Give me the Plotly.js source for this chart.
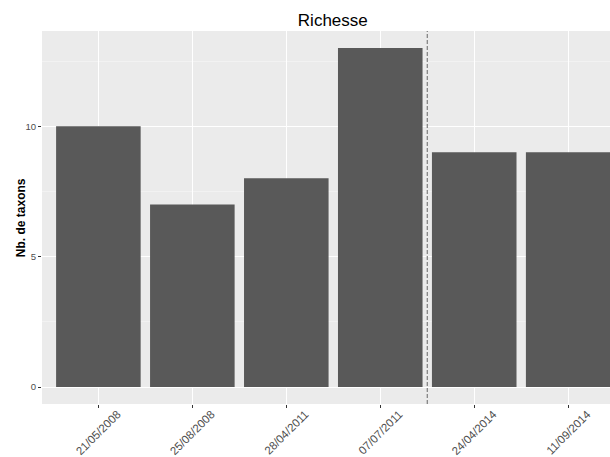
<!DOCTYPE html>
<html>
<head>
<meta charset="utf-8">
<script src="https://cdn.plot.ly/plotly-3.0.1.min.js"></script>
<style>html,body{margin:0;padding:0;overflow:hidden;background:#fff}</style>
</head>
<body>
<div id="chart" style="width:610px;height:457px"></div>
<script>
const dates = ["21/05/2008", "25/08/2008", "28/04/2011", "07/07/2011", "24/04/2014", "11/09/2014"];
const richesse = [10, 7, 8, 13, 9, 9];
const yTicks = [0, 5, 10];
const separatorPosition = 3.5;

const trace = {
  type: 'bar',
  x: dates,
  y: richesse,
  width: 0.9,
  marker: {color: '#595959', line: {width: 0}},
  hoverinfo: 'x+y'
};

const layout = {
  width: 610,
  height: 457,
  margin: {l: 42, r: 0, t: 31, b: 53, pad: 0},
  paper_bgcolor: '#FFFFFF',
  plot_bgcolor: '#EBEBEB',
  font: {family: 'Liberation Sans, Arial, sans-serif', color: '#4D4D4D'},
  showlegend: false,
  bargap: 0.1,
  title: {
    text: 'Richesse',
    font: {size: 17, color: '#000000', family: 'Liberation Sans, Arial, sans-serif'},
    xref: 'paper', x: 0.512, xanchor: 'center',
    yref: 'container', y: 0.957, yanchor: 'middle'
  },
  xaxis: {
    type: 'category',
    categoryorder: 'array',
    categoryarray: dates,
    range: [-0.6, 5.445],
    showgrid: true,
    gridcolor: '#FFFFFF',
    gridwidth: 1,
    zeroline: false,
    showline: false,
    ticks: 'outside',
    ticklen: 3,
    tickcolor: '#333333',
    tickwidth: 1,
    tickangle: -45,
    ticklabelshift: 19,
    ticklabelstandoff: -5,
    tickfont: {size: 11.5, color: '#4D4D4D'},
    automargin: false,
    fixedrange: true
  },
  yaxis: {
    range: [-0.65, 13.65],
    tickvals: yTicks,
    ticktext: yTicks.map(String),
    showgrid: true,
    gridcolor: '#FFFFFF',
    gridwidth: 1,
    minor: {dtick: 2.5, tick0: 0, showgrid: true, gridcolor: '#F7F7F7', gridwidth: 0.6, ticks: ''},
    zeroline: false,
    showline: false,
    ticks: 'outside',
    ticklen: 3,
    tickcolor: '#333333',
    tickwidth: 1,
    tickfont: {size: 9.6, color: '#4D4D4D'},
    automargin: false,
    fixedrange: true
  },
  shapes: [{
    type: 'line',
    xref: 'x', yref: 'paper',
    x0: separatorPosition, x1: separatorPosition, y0: 0, y1: 1,
    line: {color: '#666666', width: 1, dash: '4px,2px'}
  }],
  annotations: [{
    text: '<b>Nb. de taxons</b>',
    xref: 'paper', yref: 'paper',
    x: -0.0375, y: 0.5,
    xanchor: 'center', yanchor: 'middle',
    textangle: -90,
    showarrow: false,
    font: {size: 12, color: '#000000'}
  }]
};

Plotly.newPlot('chart', [trace], layout, {displayModeBar: false, staticPlot: true});
</script>
</body>
</html>
